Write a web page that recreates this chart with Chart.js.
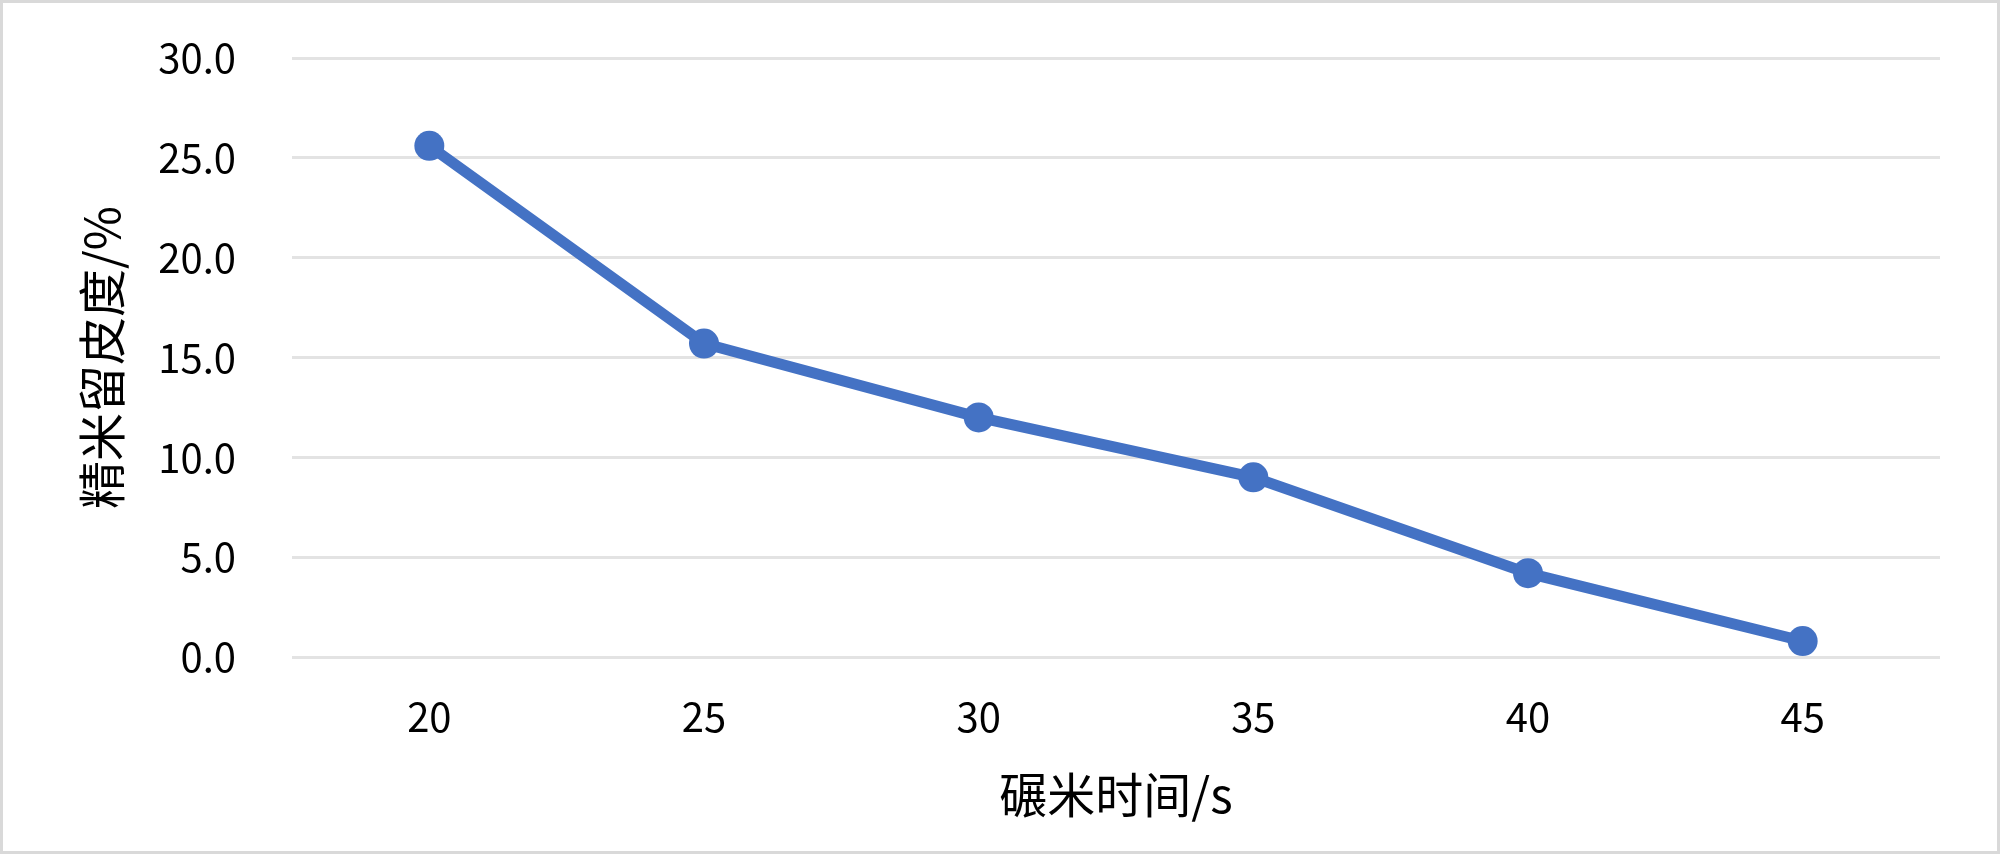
<!DOCTYPE html>
<html>
<head>
<meta charset="utf-8">
<script src="https://cdn.jsdelivr.net/npm/chart.js@4/dist/chart.umd.min.js"></script>
<style>
	html, body { margin: 0; padding: 0; background: #fff; }
	canvas { display: block; }
</style>
</head>
<body>
<canvas id="riceChart" width="2000" height="854"></canvas>
<script>
// 碾米时间 (s) vs 精米留皮度 (%)
var millTimes = ["20", "25", "30", "35", "40", "45"];
var branRemain = [25.6, 15.7, 12.0, 9.0, 4.2, 0.8];
var yTicks = [0, 5, 10, 15, 20, 25, 30];

var cjkFont = '"Noto Sans CJK SC", "Noto Sans", sans-serif';

// light gray frame round the whole picture
var frame = {
	id: 'frame',
	afterDraw: function(chart) {
		var ctx = chart.ctx;
		ctx.save();
		ctx.strokeStyle = '#d9d9d9';
		ctx.lineWidth = 3;
		ctx.strokeRect(1.5, 1.5, chart.width - 3, chart.height - 3);
		ctx.restore();
	}
};

var ctx = document.getElementById("riceChart").getContext("2d");
var riceChart = new Chart(ctx, {
	type: 'line',
	data: {
		labels: millTimes,
		datasets: [{
			data: branRemain,
			borderColor: '#4472C4',
			backgroundColor: '#4472C4',
			borderWidth: 11,
			pointRadius: 15,
			pointBorderWidth: 0,
			pointBackgroundColor: '#4472C4',
			tension: 0
		}]
	},
	options: {
		responsive: false,
		animation: false,
		layout: { padding: { top: 58, right: 60, left: 0, bottom: 0 } },
		plugins: {
			legend: { display: false },
			tooltip: { enabled: false }
		},
		scales: {
			x: {
				offset: true,
				grid: { display: false, drawTicks: false },
				border: { display: false },
				ticks: {
					color: '#000',
					padding: 36,
					font: { family: cjkFont, size: 40 }
				},
				title: {
					display: true,
					text: '碾米时间/s',
					color: '#000',
					padding: { top: 0, bottom: 30 },
					font: { family: cjkFont, size: 48 }
				},
				afterFit: function(scale) { scale.height = 197; }
			},
			y: {
				min: 0,
				max: 30,
				afterBuildTicks: function(scale) {
					scale.ticks = yTicks.map(function(v) { return { value: v }; });
				},
				grid: { color: '#e3e3e3', lineWidth: 3, drawTicks: false },
				border: { display: false },
				ticks: {
					color: '#000',
					padding: 56,
					font: { family: cjkFont, size: 40 },
					callback: function(v) { return Number(v).toFixed(1); }
				},
				title: {
					display: true,
					text: '精米留皮度/%',
					color: '#000',
					padding: { top: 73, bottom: 0 },
					font: { family: cjkFont, size: 48 }
				},
				afterFit: function(scale) {
					scale.width = 292;
					scale.paddingTop = 0;
					scale.paddingBottom = 0;
				}
			}
		}
	},
	plugins: [frame]
});
</script>
</body>
</html>
